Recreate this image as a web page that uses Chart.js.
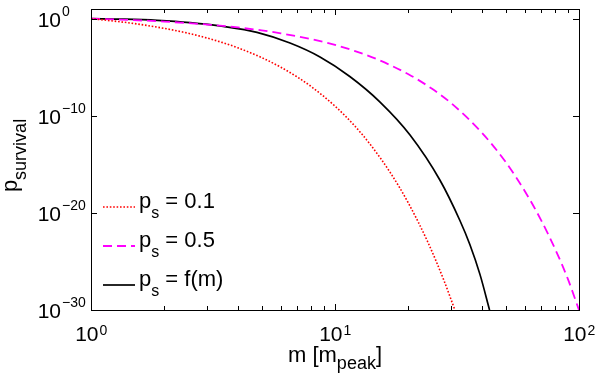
<!DOCTYPE html>
<html>
<head>
<meta charset="utf-8">
<script src="https://cdn.jsdelivr.net/npm/chart.js@4"></script>
<style>
  html, body { margin: 0; padding: 0; background: #fff; }
  canvas { display: block; }
</style>
</head>
<body>
<canvas id="chart" width="600" height="377"></canvas>
<script>
// survival probability vs halo mass
const massRed = [1, 1.25, 1.5, 2, 2.5, 3, 3.5, 4, 5, 6, 7, 8, 10, 12, 14, 17, 20, 24, 28, 31];
const survRed = [1, 5.6e-1, 3.2e-1, 1e-1, 3.2e-2, 1e-2, 3.2e-3, 1e-3, 1e-4, 1e-5, 1e-6, 1e-7, 1e-9, 1e-11, 1e-13, 1e-16, 1e-19, 1e-23, 1e-27, 1e-30];

const massMag = [1, 1.5, 2, 3, 4, 5, 6, 8, 10, 12, 15, 20, 25, 30, 40, 50, 60, 70, 80, 90, 100];
const survMag = [1, 7.1e-1, 5e-1, 2.5e-1, 1.25e-1, 6.3e-2, 3.1e-2, 7.8e-3, 2e-3, 4.9e-4, 6.1e-5, 1.9e-6, 6e-8, 1.9e-9, 1.8e-12, 1.8e-15, 1.7e-18, 1.7e-21, 1.7e-24, 1.6e-27, 1e-30];

const massBlk = [1, 1.37, 1.87, 2.55, 3.48, 4.79, 6.54, 8.68, 11.5, 15.3, 20.3, 26.9, 32.5, 35.7, 39.3, 43];
const survBlk = [1, 8.9e-1, 6.7e-1, 3.9e-1, 1.6e-1, 3.9e-2, 3.1e-3, 1.14e-4, 1.12e-6, 2.6e-9, 1.05e-12, 2.45e-17, 1.66e-21, 5.6e-24, 4.4e-27, 1e-30];

const seriesLabels = ['0.1', '0.5', 'f(m)'];
const xTickExps = [0, 1, 2];
const yTickExps = [0, -10, -20, -30];

const FONT = '"Liberation Sans", Arial, Helvetica, sans-serif';
const RED = '#ff0000', MAG = '#ff00ff', BLK = '#000000';
const styles = [
  { color: RED, width: 1.6, dash: [1.6, 1.8] },
  { color: MAG, width: 1.8, dash: [9, 5] },
  { color: BLK, width: 1.7, dash: [] },
];

const pts = (xs, ys) => xs.map((x, i) => ({ x, y: ys[i] }));

// draws "10^exp" with the base right edge at bx
function drawPow(ctx, bx, by, exp, eyOff) {
  ctx.textAlign = 'right';
  ctx.font = `21px ${FONT}`;
  ctx.fillText('10', bx, by);
  ctx.textAlign = 'left';
  ctx.font = `14px ${FONT}`;
  ctx.fillText(String(exp).replace('-', '\u2212'), bx + 1, by + eyOff);
}

// draws main text + subscript (+ optional tail) starting at x
function drawSub(ctx, x, y, main, sub, tail, mainSize, subSize, subOff) {
  ctx.textAlign = 'left';
  ctx.font = `${mainSize}px ${FONT}`;
  ctx.fillText(main, x, y);
  x += ctx.measureText(main).width;
  ctx.font = `${subSize}px ${FONT}`;
  ctx.fillText(sub, x, y + subOff);
  x += ctx.measureText(sub).width;
  if (tail) {
    ctx.font = `${mainSize}px ${FONT}`;
    ctx.fillText(tail, x, y);
  }
}

function subWidth(ctx, main, sub, tail, mainSize, subSize) {
  ctx.font = `${mainSize}px ${FONT}`;
  let w = ctx.measureText(main).width + (tail ? ctx.measureText(tail).width : 0);
  ctx.font = `${subSize}px ${FONT}`;
  return w + ctx.measureText(sub).width;
}

const axesPlugin = {
  id: 'matlabAxes',
  afterDatasetsDraw(chart) {
    const { ctx, chartArea: a, scales: { x, y } } = chart;
    ctx.save();
    ctx.strokeStyle = '#000';
    ctx.lineWidth = 1;
    ctx.setLineDash([]);
    ctx.strokeRect(Math.round(a.left) + 0.5, Math.round(a.top) + 0.5,
      Math.round(a.right - a.left), Math.round(a.bottom - a.top));

    // x ticks, inward on bottom and top
    ctx.beginPath();
    for (let e = 0; e < 2; e++) {
      for (let k = 1; k <= 9; k++) {
        const px = Math.round(x.getPixelForValue(k * Math.pow(10, e))) + 0.5;
        const len = k === 1 ? 6 : 4;
        ctx.moveTo(px, a.bottom); ctx.lineTo(px, a.bottom - len);
        ctx.moveTo(px, a.top); ctx.lineTo(px, a.top + len);
      }
    }
    // y ticks, inward on left and right
    yTickExps.forEach(e => {
      const py = Math.round(y.getPixelForValue(Math.pow(10, e))) + 0.5;
      ctx.moveTo(a.left, py); ctx.lineTo(a.left + 6, py);
      ctx.moveTo(a.right, py); ctx.lineTo(a.right - 6, py);
    });
    ctx.stroke();

    ctx.fillStyle = '#000';
    ctx.textBaseline = 'alphabetic';
    yTickExps.forEach(e => {
      const py = y.getPixelForValue(Math.pow(10, e));
      drawPow(ctx, 61, py + 8, e, -11);
    });
    xTickExps.forEach(e => {
      const px = x.getPixelForValue(Math.pow(10, e));
      drawPow(ctx, px + 7.5, 341, e, -6);
    });

    // x title
    const xw = subWidth(ctx, 'm [m', 'peak', ']', 22, 18);
    drawSub(ctx, (a.left + a.right) / 2 - xw / 2, 362, 'm [m', 'peak', ']', 22, 18, 7);

    // y title (rotated)
    ctx.save();
    const yw = subWidth(ctx, 'p', 'survival', '', 22, 18);
    ctx.translate(17, (a.top + a.bottom) / 2 - 4);
    ctx.rotate(-Math.PI / 2);
    drawSub(ctx, -yw / 2, 0, 'p', 'survival', '', 22, 18, 9);
    ctx.restore();

    // legend
    const rows = [207, 246, 285];
    rows.forEach((ly, i) => {
      const s = styles[i];
      ctx.beginPath();
      ctx.strokeStyle = s.color;
      ctx.lineWidth = s.width;
      ctx.setLineDash(s.dash);
      ctx.moveTo(103, ly); ctx.lineTo(135, ly);
      ctx.stroke();
      ctx.setLineDash([]);
      ctx.fillStyle = '#000';
      drawSub(ctx, 139, ly + 1, 'p', 's', ' = ' + seriesLabels[i], 22, 16, 10);
    });
    ctx.restore();
  },
};

const sets = [pts(massRed, survRed), pts(massMag, survMag), pts(massBlk, survBlk)];

new Chart(document.getElementById('chart'), {
  type: 'line',
  data: {
    datasets: sets.map((d, i) => ({
      label: 'p_s = ' + seriesLabels[i],
      data: d,
      borderColor: styles[i].color,
      borderWidth: styles[i].width,
      borderDash: styles[i].dash,
      pointRadius: 0,
      fill: false,
      cubicInterpolationMode: 'monotone',
    })),
  },
  options: {
    responsive: false,
    animation: false,
    layout: { padding: { left: 91, right: 21, top: 9, bottom: 67 } },
    plugins: { legend: { display: false }, tooltip: { enabled: false } },
    scales: {
      x: { type: 'logarithmic', min: 1, max: 100, display: false },
      y: { type: 'logarithmic', min: 1e-30, max: 1e1, display: false },
    },
  },
  plugins: [axesPlugin],
});
</script>
</body>
</html>
